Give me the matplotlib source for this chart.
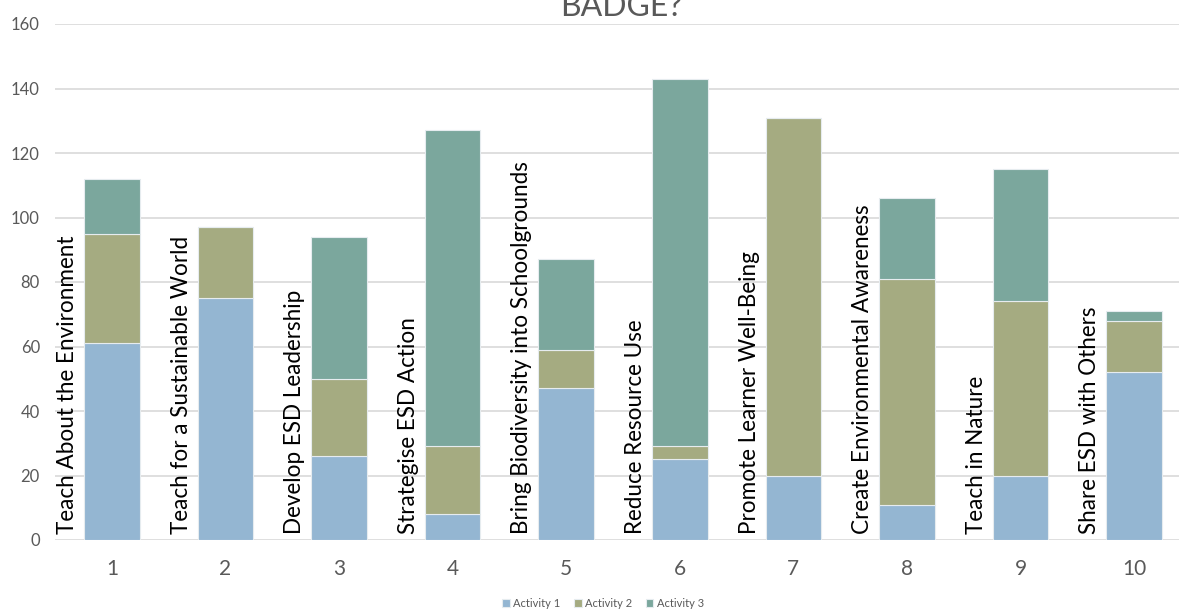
import matplotlib
matplotlib.use("Agg")
import matplotlib.pyplot as plt
import numpy as np

categories = ["1", "2", "3", "4", "5", "6", "7", "8", "9", "10"]
badge_names = [
    "Teach About the Environment",
    "Teach for a Sustainable World",
    "Develop ESD Leadership",
    "Strategise ESD Action",
    "Bring Biodiversity into Schoolgrounds",
    "Reduce Resource Use",
    "Promote Learner Well-Being",
    "Create Environmental Awareness",
    "Teach in Nature",
    "Share ESD with Others",
]
activity1 = [61, 75, 26, 8, 47, 25, 20, 11, 20, 52]
activity2 = [34, 22, 24, 21, 12, 4, 111, 70, 54, 16]
activity3 = [17, 0, 44, 98, 28, 114, 0, 25, 41, 3]
series_names = ["Activity 1", "Activity 2", "Activity 3"]
colors = ["#94B6D2", "#A5AB81", "#7BA79D"]
title_tail = "BADGE?"

plt.rcParams['font.family'] = ['Lato', 'DejaVu Sans']

fig = plt.figure(figsize=(11.79, 6.10), dpi=100)
W, H = 1179, 610
ax = fig.add_axes([55.2 / W, 1 - 540 / H, 1135.6 / W, 516 / H])

x = np.arange(1, len(categories) + 1)
bw = 0.49
a1 = np.array(activity1)
a2 = np.array(activity2)
a3 = np.array(activity3)
ec = "#E6ECEF"
ax.bar(x, a1, bw, color=colors[0], edgecolor=ec, linewidth=0.8, label=series_names[0], zorder=3)
ax.bar(x, a2, bw, bottom=a1, color=colors[1], edgecolor=ec, linewidth=0.8, label=series_names[1], zorder=3)
ax.bar(x, a3, bw, bottom=a1 + a2, color=colors[2], edgecolor=ec, linewidth=0.8, label=series_names[2], zorder=3)

# measure label length to fit the reference's text length
renderer = fig.canvas.get_renderer()
probe = fig.text(0, 0, badge_names[4], fontsize=15, family=['Lato', 'DejaVu Sans'])
plen = probe.get_window_extent(renderer).width
probe.remove()
lab_size = 15 * 373.0 / plen

for xi, name in zip(x, badge_names):
    ax.text(xi - 0.39, 2, name, rotation=90, ha="center", va="bottom",
            fontsize=lab_size, color="black", zorder=4)

ax.set_xlim(0.5, 10.5)
ax.set_ylim(0, 160)
ax.set_yticks(np.arange(0, 161, 20))
ax.set_xticks(x)
ax.set_xticklabels(categories)
ax.yaxis.grid(True, color="#D9D9D9", linewidth=1.2, zorder=0)
ax.set_axisbelow(True)
for s in ax.spines.values():
    s.set_visible(False)
ax.tick_params(axis="both", length=0)
ax.tick_params(axis="y", labelsize=12, labelcolor="#595959", pad=11)
ax.tick_params(axis="x", labelsize=15, labelcolor="#595959", pad=14)

fig.text(621 / W, 1 - 16 / H, title_tail, ha="center", va="baseline",
         fontsize=23, color="#595959")

leg = fig.legend(loc="lower center", bbox_to_anchor=(603 / W, -0.015), ncol=3,
                 frameon=False, fontsize=8, handlelength=0.7, handleheight=0.7,
                 handletextpad=0.3, columnspacing=1.2)
for t in leg.get_texts():
    t.set_color("#595959")

fig.savefig("out.png", dpi=100)
